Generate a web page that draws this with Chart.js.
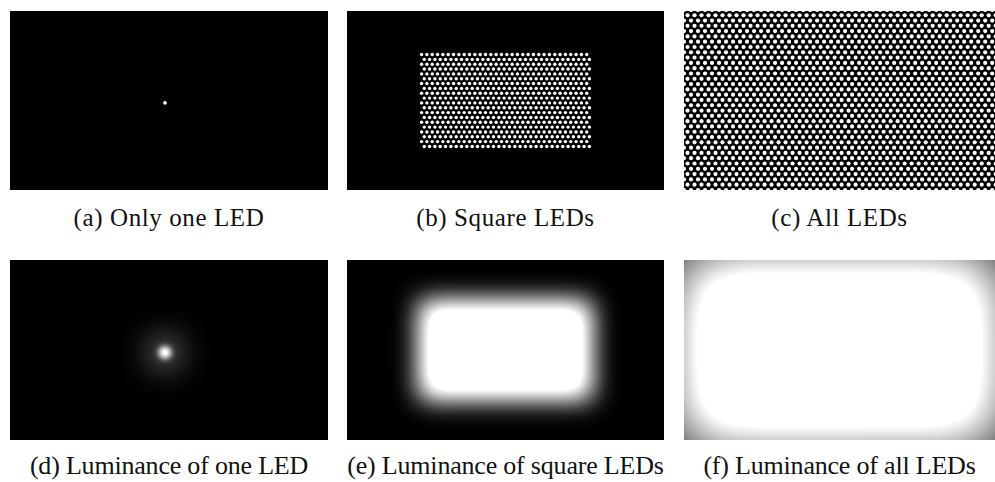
<!DOCTYPE html>
<html>
<head>
<meta charset="utf-8">
<script src="https://cdn.jsdelivr.net/npm/chart.js@4.4.1/dist/chart.umd.min.js"></script>
<style>
  body { margin: 0; width: 995px; height: 482px; overflow: hidden; background: #fff; position: relative; }
  .panel { position: absolute; }
  .clip { position: absolute; overflow: hidden; }
  .cap { position: absolute; text-align: center; white-space: nowrap; color: #111;
         font-family: "Liberation Serif", "DejaVu Serif", serif; }
  .top { font-size: 25px; letter-spacing: 0.6px; top: 203px; line-height: 30px; }
  .bot { font-size: 26px; letter-spacing: -0.2px; top: 450px; line-height: 32px; }
</style>
</head>
<body>
<div class="panel" style="left:10px;top:11px;width:318px;height:179px"><canvas id="ledOne"></canvas></div>
<div class="panel" style="left:347px;top:11px;width:317px;height:179px"><canvas id="ledSquare"></canvas></div>
<div class="panel" style="left:684px;top:11px;width:311px;height:179px"><canvas id="ledAll"></canvas></div>
<div class="panel" style="left:10px;top:260px;width:318px;height:180px"><canvas id="lumOne"></canvas></div>
<div class="panel" style="left:347px;top:260px;width:317px;height:180px"><canvas id="lumSquare"></canvas></div>
<div class="clip" style="left:684px;top:260px;width:311px;height:180px">
  <div class="panel" style="left:-10px;top:-10px;width:331px;height:200px"><canvas id="lumAll"></canvas></div>
</div>

<div class="cap top" style="left:10px;width:318px">(a) Only one LED</div>
<div class="cap top" style="left:347px;width:317px">(b) Square LEDs</div>
<div class="cap top" style="left:684px;width:311px">(c) All LEDs</div>
<div class="cap bot" style="left:10px;width:318px">(d) Luminance of one LED</div>
<div class="cap bot" style="left:347px;width:317px">(e) Luminance of square LEDs</div>
<div class="cap bot" style="left:684px;width:311px">(f) Luminance of all LEDs</div>

<script>
// LED lattice: columns x rows, odd rows are shifted by half a column
// panels a, b, d, e share one view of the lattice
const viewCols = [0, 59.5];
const viewRows = [0, 37];
const oneLedCol = [29];
const oneLedRow = [18];
const squareCols = [14, 45];
const squareRows = [9, 28];

// panels c, f use a coarser view (f keeps a hidden margin so the light spreads in)
const allViewCols = [0, 44.4];
const allViewRows = [0, 33.8];
const lumAllViewCols = [-1.43, 45.83];
const lumAllViewRows = [-1.88, 35.68];
const allCols = [-2, 46];
const allRows = [-2, 36];

function lattice(cols, rows) {
    var pts = [];
    for (var r = rows[0]; r <= rows[1]; r++) {
        for (var c = cols[0]; c <= cols[1]; c++) {
            pts.push({x: c + (Math.abs(r) % 2 ? 0.5 : 0), y: r});
        }
    }
    return pts;
}

const blackBg = {
    id: 'blackBg',
    beforeDraw(chart) {
        if (chart.options.plugins.layerGlow) return;
        var ctx = chart.ctx;
        ctx.save();
        ctx.fillStyle = '#000';
        ctx.fillRect(0, 0, chart.width, chart.height);
        ctx.restore();
    }
};

// blur one dataset (single LED glow)
const glow = {
    id: 'glow',
    beforeDatasetDraw(chart, args) {
        var b = chart.data.datasets[args.index].blur;
        if (b) {
            chart.ctx.save();
            chart.ctx.filter = 'blur(' + b + 'px)';
            chart.ctx.globalCompositeOperation = 'lighter';
        }
    },
    afterDatasetDraw(chart, args) {
        if (chart.data.datasets[args.index].blur) chart.ctx.restore();
    }
};

// blur all drawn LEDs at once, turn the light up, put black behind
const layerGlow = {
    id: 'layerGlow',
    afterDatasetsDraw(chart, args, opts) {
        if (!opts || !opts.blur) return;
        var cv = chart.canvas, ctx = chart.ctx;
        var off = document.createElement('canvas');
        off.width = cv.width;
        off.height = cv.height;
        off.getContext('2d').drawImage(cv, 0, 0);
        ctx.save();
        ctx.setTransform(1, 0, 0, 1, 0, 0);
        ctx.clearRect(0, 0, cv.width, cv.height);
        ctx.filter = 'blur(' + opts.blur + 'px)';
        ctx.globalCompositeOperation = 'lighter';
        var g = opts.gain;
        while (g > 0) {
            ctx.globalAlpha = Math.min(g, 1);
            ctx.drawImage(off, 0, 0);
            g -= 1;
        }
        ctx.filter = 'none';
        ctx.globalAlpha = 1;
        ctx.globalCompositeOperation = 'destination-over';
        ctx.fillStyle = '#000';
        ctx.fillRect(0, 0, cv.width, cv.height);
        ctx.restore();
    }
};

function panel(id, datasets, cols, rows, lum) {
    var ctx = document.getElementById(id).getContext('2d');
    var plugins = {legend: {display: false}, tooltip: {enabled: false}};
    if (lum) plugins.layerGlow = lum;
    return new Chart(ctx, {
        type: 'scatter',
        data: {datasets: datasets},
        options: {
            responsive: true,
            maintainAspectRatio: false,
            animation: false,
            layout: {padding: 0, autoPadding: false},
            plugins: plugins,
            elements: {point: {pointStyle: 'circle', borderWidth: 0}},
            scales: {
                x: {type: 'linear', display: false, min: cols[0], max: cols[1]},
                y: {type: 'linear', display: false, min: rows[0], max: rows[1]}
            }
        },
        plugins: [blackBg, glow, layerGlow]
    });
}

function led(points, radius, color, blur) {
    return {
        data: points,
        pointRadius: radius,
        pointBackgroundColor: color,
        pointBorderWidth: 0,
        blur: blur || 0
    };
}

var single = lattice([oneLedCol[0], oneLedCol[0]], [oneLedRow[0], oneLedRow[0]]);
var square = lattice(squareCols, squareRows);
var all = lattice(allCols, allRows);

panel('ledOne', [led(single, 1.8, '#fff')], viewCols, viewRows);
panel('ledSquare', [led(square, 1.7, '#fff')], viewCols, viewRows);
panel('ledAll', [led(all, 2.1, '#fff')], allViewCols, allViewRows);

panel('lumOne', [
    led(single, 20, 'rgba(255,255,255,0.3)', 14),
    led(single, 6, '#fff', 3)
], viewCols, viewRows);
panel('lumSquare', [led(square, 3.4, '#fff')], viewCols, viewRows, {blur: 13, gain: 1.3});
panel('lumAll', [led(all, 3.6, '#fff')], lumAllViewCols, lumAllViewRows, {blur: 34, gain: 1.35});
</script>
</body>
</html>
